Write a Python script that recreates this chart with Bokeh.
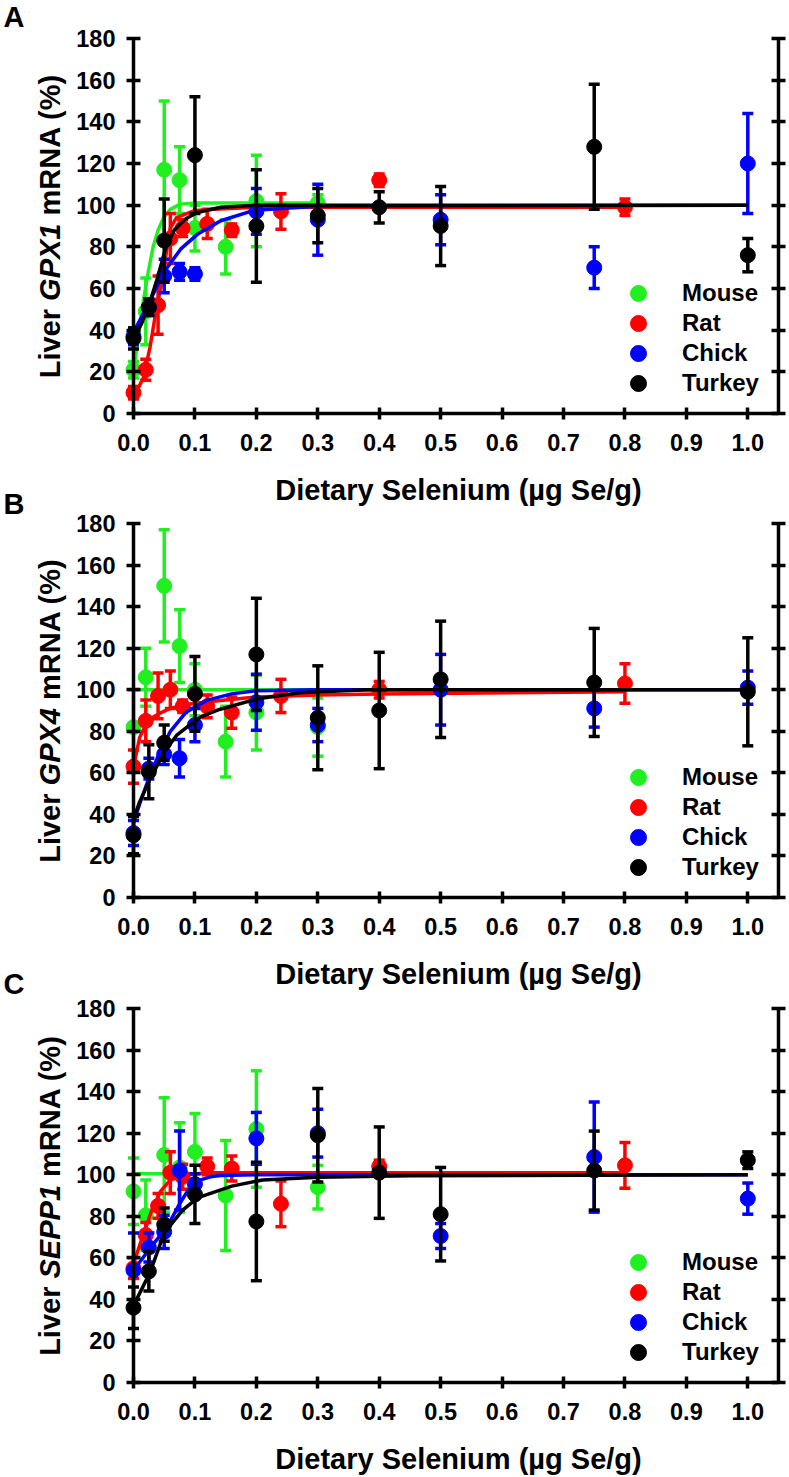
import math
from bokeh.plotting import figure
from bokeh.models import (LinearAxis, FixedTicker, Range1d, Label, Legend,
                          LegendItem, PrintfTickFormatter)
from bokeh.layouts import column
from bokeh.embed import file_html
from bokeh.resources import INLINE

FONT = "Liberation Sans"
SPECIES = ["Mouse", "Rat", "Chick", "Turkey"]
COLORS = ["#20f020", "#ff0000", "#0000ff", "#000000"]

Y_TICKS = [0, 20, 40, 60, 80, 100, 120, 140, 160, 180]
X_TICKS = [0.0, 0.1, 0.2, 0.3, 0.4, 0.5, 0.6, 0.7, 0.8, 0.9, 1.0]
X_TITLE = "Dietary Selenium (\u00b5g Se/g)"
PANEL_LETTERS = ["A", "B", "C"]
GENES = ["GPX1", "GPX4", "SEPP1"]

# dietary Se levels (ug Se/g)
DOSE_MOUSE = [0, 0.02, 0.05, 0.075, 0.1, 0.15, 0.2, 0.3]
DOSE_RAT = [0, 0.02, 0.04, 0.06, 0.08, 0.12, 0.16, 0.24, 0.4, 0.8]
DOSE_CHICK = [0, 0.025, 0.05, 0.075, 0.1, 0.2, 0.3, 0.5, 0.75, 1.0]
DOSE_TURKEY = [0, 0.025, 0.05, 0.1, 0.2, 0.3, 0.4, 0.5, 0.75, 1.0]

# ---- Panel A: GPX1 ----
GPX1_MOUSE = [21, 49, 117, 112, 89, 80, 102, 101]
GPX1_MOUSE_SEM = [4, 16, 33, 16, 11, 13, 22, 4]
GPX1_RAT = [10, 21, 52, 84, 89, 91, 88, 97, 112, 99]
GPX1_RAT_SEM = [3, 5, 14, 12, 4, 7, 3, 8.5, 3, 4]
GPX1_CHICK = [37, 51, 66, 68, 67, 97, 93, 93, 70, 120]
GPX1_CHICK_SEM = [4, 4, 8, 4, 3, 11, 17, 12, 10, 24]
GPX1_TURKEY = [36, 51, 83, 124, 90, 95, 99, 90, 128, 76]
GPX1_TURKEY_SEM = [5, 4, 20, 28, 27, 13, 7.5, 19, 30, 8]

GPX1_FIT_MOUSE_X = [0, 0.008, 0.016, 0.024, 0.032, 0.04, 0.049, 0.06, 0.076, 0.1, 0.3]
GPX1_FIT_MOUSE_Y = [20, 37, 54, 68, 80, 88, 94, 98, 100.5, 101, 101]
GPX1_FIT_RAT_X = [0, 0.016, 0.027, 0.036, 0.044, 0.055, 0.06, 0.07, 0.1, 0.2, 0.8]
GPX1_FIT_RAT_Y = [8, 17, 32, 48, 60, 80, 89, 94, 97.5, 99, 99]
GPX1_FIT_CHICK_X = [0, 0.025, 0.05, 0.077, 0.104, 0.142, 0.196, 0.3, 1.0]
GPX1_FIT_CHICK_Y = [39, 53, 68, 79, 86, 92.5, 97.5, 99.5, 100]
GPX1_FIT_TURKEY_X = [0, 0.013, 0.025, 0.039, 0.052, 0.066, 0.085, 0.104, 0.142, 0.2, 1.0]
GPX1_FIT_TURKEY_Y = [36, 43, 52, 65, 79, 88, 93.5, 96.5, 99, 100, 100]

# ---- Panel B: GPX4 ----
GPX4_MOUSE = [82, 106, 150, 121, 100, 75, 89, 82]
GPX4_MOUSE_SEM = [18, 14, 27, 17.5, 12.5, 17, 18, 14]
GPX4_RAT = [63, 85, 97, 100, 92, 92, 89, 97, 100, 103]
GPX4_RAT_SEM = [8, 10, 11, 9, 3, 5.5, 7.5, 8, 4, 9.5]
GPX4_CHICK = [31, 62, 69, 67, 83, 94, 83, 100, 91, 101]
GPX4_CHICK_SEM = [6, 5, 5, 9, 8, 13.5, 8, 17, 9, 8]
GPX4_TURKEY = [30, 60.5, 74.5, 98, 117, 86.5, 90, 105, 103.5, 99]
GPX4_TURKEY_SEM = [9, 13, 8.5, 18, 27, 25, 28, 28, 26, 26]

GPX4_FIT_MOUSE_X = [0, 0.3]
GPX4_FIT_MOUSE_Y = [100, 100]
GPX4_FIT_RAT_X = [0, 0.005, 0.01, 0.02, 0.03, 0.045, 0.06, 0.08, 0.1, 0.15, 0.2, 0.3, 0.4, 0.8]
GPX4_FIT_RAT_Y = [62, 70, 77, 83, 86.5, 89, 91, 92.5, 93.5, 95, 96.5, 97.5, 98, 99]
GPX4_FIT_CHICK_X = [0, 0.01, 0.022, 0.04, 0.06, 0.085, 0.12, 0.16, 0.2, 0.3, 1.0]
GPX4_FIT_CHICK_Y = [36, 45, 55, 68, 80, 89, 95, 98, 99.5, 100, 100]
GPX4_FIT_TURKEY_X = [0, 0.01, 0.027, 0.05, 0.07, 0.087, 0.11, 0.14, 0.2, 0.27, 0.38, 1.0]
GPX4_FIT_TURKEY_Y = [38, 46, 57, 70, 78, 82, 87, 90.5, 95.5, 98.5, 100, 100]

# ---- Panel C: SEPP1 ----
SEPP1_MOUSE = [92, 80.5, 109.5, 103.5, 111, 90, 122, 94]
SEPP1_MOUSE_SEM = [16, 17, 27.5, 21.5, 18.5, 26.5, 28, 10.5]
SEPP1_RAT = [55, 71, 85, 101, 99, 104, 103, 86, 104, 104.5]
SEPP1_RAT_SEM = [5, 6, 6, 10, 6, 4, 6, 11, 3, 11]
SEPP1_CHICK = [54, 65, 72.5, 102, 95.5, 117.5, 120, 70.5, 108.5, 88.5]
SEPP1_CHICK_SEM = [18, 7, 8, 19, 5, 12.5, 11.5, 6, 26.5, 7.5]
SEPP1_TURKEY = [36, 53.5, 76, 90.5, 77.5, 119, 101, 81, 102, 107]
SEPP1_TURKEY_SEM = [10, 9.5, 8, 14, 28.5, 22.5, 22, 22.5, 19, 4]

SEPP1_FIT_MOUSE_X = [0, 0.3]
SEPP1_FIT_MOUSE_Y = [100.5, 100.5]
SEPP1_FIT_RAT_X = [0, 0.01, 0.017, 0.03, 0.044, 0.06, 0.087, 0.12, 0.2, 0.8]
SEPP1_FIT_RAT_Y = [57, 66, 72, 83, 92, 97.5, 100, 101, 101, 101]
SEPP1_FIT_CHICK_X = [0, 0.028, 0.055, 0.075, 0.09, 0.104, 0.125, 0.142, 0.2, 1.0]
SEPP1_FIT_CHICK_Y = [54, 65, 75, 86, 93, 97, 99, 99.6, 100, 100]
SEPP1_FIT_TURKEY_X = [0, 0.027, 0.05, 0.08, 0.105, 0.16, 0.21, 0.3, 0.45, 1.0]
SEPP1_FIT_TURKEY_Y = [37, 53, 72, 83, 89, 94.5, 97.5, 98.8, 99.5, 100]

DOSES = [DOSE_MOUSE, DOSE_RAT, DOSE_CHICK, DOSE_TURKEY]

# ---- page layout (pixels) ----
W = 789
X0_PX = 133.0          # page column of x = 0
PX_PER_X = 614.3       # pixels per 1.0 ug Se/g
X_AXIS_END = 1.05
CANVAS_TOPS = [0, 470, 950]       # page rows where each figure's canvas starts
CANVAS_H = [470, 480, 527]
AXIS0_PX = [413, 897, 1382]       # page row of y = 0 in each panel
AXIS180_PX = [38, 523, 1008]      # page row of y = 180 in each panel
LETTER_MID_PX = [16.5, 503, 983]  # page row of the middle of each panel letter
TITLE_DROP = 76                   # x-axis title middle below the x axis
TITLE_X_PX = 458

PANELS = [
    dict(vals=[GPX1_MOUSE, GPX1_RAT, GPX1_CHICK, GPX1_TURKEY],
         sems=[GPX1_MOUSE_SEM, GPX1_RAT_SEM, GPX1_CHICK_SEM, GPX1_TURKEY_SEM],
         fits=[(GPX1_FIT_MOUSE_X, GPX1_FIT_MOUSE_Y), (GPX1_FIT_RAT_X, GPX1_FIT_RAT_Y),
               (GPX1_FIT_CHICK_X, GPX1_FIT_CHICK_Y), (GPX1_FIT_TURKEY_X, GPX1_FIT_TURKEY_Y)]),
    dict(vals=[GPX4_MOUSE, GPX4_RAT, GPX4_CHICK, GPX4_TURKEY],
         sems=[GPX4_MOUSE_SEM, GPX4_RAT_SEM, GPX4_CHICK_SEM, GPX4_TURKEY_SEM],
         fits=[(GPX4_FIT_MOUSE_X, GPX4_FIT_MOUSE_Y), (GPX4_FIT_RAT_X, GPX4_FIT_RAT_Y),
               (GPX4_FIT_CHICK_X, GPX4_FIT_CHICK_Y), (GPX4_FIT_TURKEY_X, GPX4_FIT_TURKEY_Y)]),
    dict(vals=[SEPP1_MOUSE, SEPP1_RAT, SEPP1_CHICK, SEPP1_TURKEY],
         sems=[SEPP1_MOUSE_SEM, SEPP1_RAT_SEM, SEPP1_CHICK_SEM, SEPP1_TURKEY_SEM],
         fits=[(SEPP1_FIT_MOUSE_X, SEPP1_FIT_MOUSE_Y), (SEPP1_FIT_RAT_X, SEPP1_FIT_RAT_Y),
               (SEPP1_FIT_CHICK_X, SEPP1_FIT_CHICK_Y), (SEPP1_FIT_TURKEY_X, SEPP1_FIT_TURKEY_Y)]),
]

# Arial / Liberation Sans bold advance widths (per 1000 em)
ADV = {"L": 611, "i": 278, "v": 556, "e": 556, "r": 389, " ": 278, "G": 778, "P": 667,
       "X": 667, "1": 556, "4": 556, "S": 667, "E": 667, "m": 889, "R": 722, "N": 722,
       "A": 722, "(": 333, "%": 889, ")": 333}
TITLE_PX = 29

# page-level texts (panel letters and x titles) -> (text, x_px, mid_y_px, align)
PAGE_TEXTS = []
for k in range(3):
    PAGE_TEXTS.append((PANEL_LETTERS[k], 3, LETTER_MID_PX[k], "left"))
    PAGE_TEXTS.append((X_TITLE, TITLE_X_PX, AXIS0_PX[k] + TITLE_DROP, "center"))


def text_w(s, px=TITLE_PX):
    return sum(ADV[c] for c in s) / 1000.0 * px


def style_axis(ax, tick):
    ax.axis_line_width = 3.5
    ax.axis_line_color = "black"
    ax.major_tick_line_width = 3.5
    ax.major_tick_line_color = "black"
    ax.major_tick_in = tick
    ax.major_tick_out = tick
    ax.minor_tick_line_color = None
    ax.major_label_text_font = FONT
    ax.major_label_text_font_size = "23.5px"
    ax.major_label_text_font_style = "bold"
    ax.major_label_text_color = "black"


def make_panel(k):
    cfg = PANELS[k]
    top = CANVAS_TOPS[k]
    H = CANVAS_H[k]
    y0 = AXIS0_PX[k] - top
    y180 = AXIS180_PX[k] - top
    sy = (y0 - y180) / 180.0          # px per % unit
    y_lo = -(H - y0) / sy
    y_hi = y0 / sy
    x_lo = -X0_PX / PX_PER_X
    x_hi = (W - X0_PX) / PX_PER_X

    def dx(px):   # page column -> data x
        return (px - X0_PX) / PX_PER_X

    def dy(px):   # page row -> data y
        return (AXIS0_PX[k] - px) / sy

    p = figure(frame_width=W, frame_height=H,
               min_border_left=0, min_border_right=0, min_border_top=0, min_border_bottom=0,
               x_range=Range1d(x_lo, x_hi), y_range=Range1d(y_lo, y_hi),
               output_backend="svg", toolbar_location=None, y_axis_location=None,
               background_fill_color="white", border_fill_color="white",
               outline_line_color=None)
    p.grid.visible = False

    xa = p.xaxis[0]
    xa.fixed_location = 0
    xa.ticker = FixedTicker(ticks=X_TICKS)
    xa.formatter = PrintfTickFormatter(format="%.1f")
    xa.bounds = (0, X_AXIS_END)
    style_axis(xa, 6)
    xa.major_label_standoff = 14

    yl = LinearAxis(fixed_location=0, bounds=(0, 180), ticker=FixedTicker(ticks=Y_TICKS))
    style_axis(yl, 7)
    yl.major_label_standoff = 11
    p.add_layout(yl, "left")

    yr = LinearAxis(fixed_location=X_AXIS_END, bounds=(0, 180),
                    ticker=FixedTicker(ticks=Y_TICKS))
    style_axis(yr, 7)
    yr.major_label_text_alpha = 0
    p.add_layout(yr, "right")

    items = []
    for name, color, dose, vals, sems, (fx, fy) in zip(SPECIES, COLORS, DOSES,
                                                       cfg["vals"], cfg["sems"], cfg["fits"]):
        p.line(fx, fy, line_color=color, line_width=3.5, line_join="round")
        lo = [v - e for v, e in zip(vals, sems)]
        hi = [v + e for v, e in zip(vals, sems)]
        p.segment(x0=dose, y0=lo, x1=dose, y1=hi, line_color=color, line_width=3.5)
        p.scatter(x=dose + dose, y=lo + hi, marker="dash", size=11,
                  line_color=color, line_width=3.5)
        r = p.scatter(x=dose, y=vals, marker="circle", size=15,
                      fill_color=color, line_color=color, line_width=1)
        items.append(LegendItem(label=name, renderers=[r]))

    # one legend per row so that rows are 30 px apart with 16 px markers
    leg_bottom = (H - y0) + 10
    for i, it in enumerate(items):
        leg = Legend(items=[it], location=(618, leg_bottom + (3 - i) * 30),
                     glyph_width=40, glyph_height=40, label_height=40,
                     spacing=0, padding=0, margin=0, label_standoff=24,
                     border_line_color=None, background_fill_alpha=0,
                     label_text_font=FONT, label_text_font_size="24px",
                     label_text_font_style="bold", label_text_color="black")
        p.add_layout(leg)

    # y axis title: Liver <italic gene> mRNA (%)
    gene = GENES[k]
    w1 = text_w("Liver ")
    w2 = text_w(gene + " ")
    total = w1 + w2 + text_w("mRNA (%)")
    half = total / 2.0
    for txt, off, style in [("Liver", 0, "bold"), (gene, w1, "bold italic"),
                            ("mRNA (%)", w1 + w2, "bold")]:
        p.add_layout(Label(x=dx(49.5), y=90 + (off - half) / sy,
                           text=txt, angle=math.pi / 2, text_align="left",
                           text_baseline="middle", text_font=FONT,
                           text_font_size="%dpx" % TITLE_PX, text_font_style=style,
                           text_color="black"))

    # page texts whose middle falls on this canvas
    for txt, tx, ty, align in PAGE_TEXTS:
        if top <= ty < top + H:
            p.add_layout(Label(x=dx(tx), y=dy(ty), text=txt, text_align=align,
                               text_baseline="middle", text_font=FONT,
                               text_font_size="%dpx" % TITLE_PX,
                               text_font_style="bold", text_color="black"))
    return p


figs = [make_panel(k) for k in range(3)]
layout = column(*figs, spacing=0)
open("out.html", "w").write(file_html(layout, INLINE))
